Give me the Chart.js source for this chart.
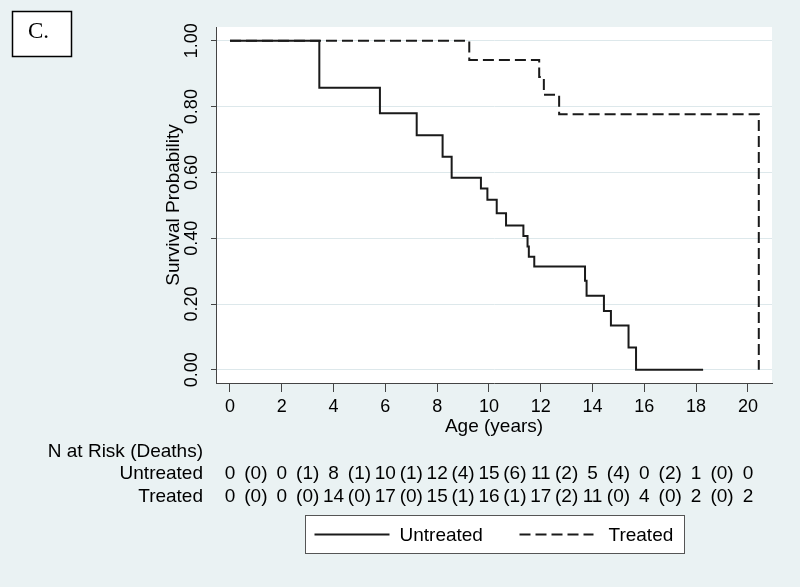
<!DOCTYPE html>
<html lang="en">
<head>
<meta charset="UTF-8">
<title>Survival by treatment</title>
<script src="https://cdn.jsdelivr.net/npm/chart.js"></script>
<style>
  body { margin: 0; background: #eaf2f3; }
  #wrap { width: 800px; height: 587px; }
</style>
</head>
<body>
<div id="wrap"><canvas id="kmChart" width="800" height="587"></canvas></div>
<script>
    // Kaplan-Meier steps (age in years, survival)
    var untreatedTimes = [0, 3.45, 5.79, 7.21, 8.21, 8.56, 9.69, 9.94, 10.30, 10.66, 11.33, 11.49, 11.54, 11.75, 13.71, 13.77, 14.44, 14.71, 15.39, 15.68, 18.27];
    var untreatedSurv = [1, 0.857, 0.780, 0.713, 0.648, 0.584, 0.551, 0.517, 0.476, 0.439, 0.407, 0.375, 0.344, 0.314, 0.271, 0.225, 0.179, 0.135, 0.068, 0, 0];
    var treatedTimes = [0, 9.24, 11.94, 12.12, 12.71, 20.42];
    var treatedSurv = [1, 0.942, 0.890, 0.836, 0.777, 0];

    var xTicks = [0, 2, 4, 6, 8, 10, 12, 14, 16, 18, 20];
    var yTicks = [0, 0.2, 0.4, 0.6, 0.8, 1.0];

    // risk table
    var untreatedAtRisk = [0, 0, 8, 10, 12, 15, 11, 5, 0, 1, 0];
    var untreatedDeaths = [0, 1, 1, 1, 4, 6, 2, 4, 2, 0];
    var treatedAtRisk = [0, 0, 14, 17, 15, 16, 17, 11, 4, 2, 2];
    var treatedDeaths = [0, 0, 0, 0, 1, 1, 2, 0, 0, 0];

    var fontFamily = '"Liberation Sans", Arial, sans-serif';
    var tickFont = { family: fontFamily, size: 18 };
    var titleFont = { family: fontFamily, size: 19 };
    var axisColor = '#444';

    function toPoints(xs, ys) {
        return xs.map(function (x, i) { return { x: x, y: ys[i] }; });
    }

    var backdrop = {
        id: 'backdrop',
        beforeDraw: function (chart) {
            var c = chart.ctx, a = chart.chartArea;
            c.save();
            c.fillStyle = '#eaf2f3';
            c.fillRect(0, 0, chart.width, chart.height);
            c.fillStyle = '#ffffff';
            c.fillRect(a.left, a.top, a.right - a.left, a.bottom - a.top);
            c.restore();
        }
    };

    var extras = {
        id: 'extras',
        afterDraw: function (chart) {
            var c = chart.ctx, xs = chart.scales.x, a = chart.chartArea;
            c.save();
            c.font = '19px ' + fontFamily;
            c.fillStyle = '#000';
            c.textBaseline = 'middle';

            // risk table
            c.textAlign = 'right';
            c.fillText('N at Risk (Deaths)', 203, 452);
            var rows = [
                ['Untreated', untreatedAtRisk, untreatedDeaths, 474],
                ['Treated', treatedAtRisk, treatedDeaths, 497]
            ];
            rows.forEach(function (r) {
                c.textAlign = 'right';
                c.fillText(r[0], 203, r[3]);
                c.textAlign = 'center';
                xTicks.forEach(function (t, i) {
                    c.fillText(String(r[1][i]), xs.getPixelForValue(t), r[3]);
                    if (i < r[2].length) {
                        var mid = (t + xTicks[i + 1]) / 2;
                        c.fillText('(' + r[2][i] + ')', xs.getPixelForValue(mid), r[3]);
                    }
                });
            });

            // legend box
            var w = 379, h = 38;
            var lx = Math.round((a.left + a.right) / 2 - w / 2) + 0.5, ly = 515.5;
            c.fillStyle = '#fff';
            c.fillRect(lx, ly, w, h);
            c.strokeStyle = '#555';
            c.lineWidth = 1;
            c.strokeRect(lx, ly, w, h);
            var ds = chart.data.datasets;
            var items = [[ds[0], 9, 84, 94], [ds[1], 214, 288, 303]];
            items.forEach(function (it) {
                c.beginPath();
                c.strokeStyle = it[0].borderColor;
                c.lineWidth = it[0].borderWidth;
                c.setLineDash(it[0].borderDash || []);
                c.moveTo(lx + it[1], ly + h / 2);
                c.lineTo(lx + it[2], ly + h / 2);
                c.stroke();
                c.setLineDash([]);
                c.fillStyle = '#000';
                c.textAlign = 'left';
                c.fillText(it[0].label, lx + it[3], ly + h / 2 + 1);
            });

            // panel tag
            c.fillStyle = '#fff';
            c.fillRect(12.5, 11.5, 59, 45);
            c.strokeStyle = '#000';
            c.lineWidth = 1.5;
            c.strokeRect(12.5, 11.5, 59, 45);
            c.fillStyle = '#000';
            c.font = '23px "Liberation Serif", "Times New Roman", serif';
            c.textAlign = 'left';
            c.fillText('C.', 28, 32);
            c.restore();
        }
    };

    var ctx = document.getElementById('kmChart').getContext('2d');
    var kmChart = new Chart(ctx, {
        type: 'line',
        data: {
            datasets: [{
                label: 'Untreated',
                data: toPoints(untreatedTimes, untreatedSurv),
                borderColor: '#1a1a1a',
                borderWidth: 2,
                stepped: true,
                pointRadius: 0,
                fill: false
            }, {
                label: 'Treated',
                data: toPoints(treatedTimes, treatedSurv),
                borderColor: '#1a1a1a',
                borderWidth: 2,
                borderDash: [11, 5],
                stepped: true,
                pointRadius: 0,
                fill: false
            }]
        },
        options: {
            responsive: false,
            animation: false,
            layout: { padding: { top: 27, right: 28, left: 0, bottom: 144 } },
            plugins: {
                legend: { display: false },
                tooltip: { enabled: false }
            },
            scales: {
                x: {
                    type: 'linear',
                    min: -0.54,
                    max: 20.93,
                    afterBuildTicks: function (s) {
                        s.ticks = xTicks.map(function (v) { return { value: v }; });
                    },
                    afterFit: function (s) { s.height = 60; },
                    grid: { drawOnChartArea: false, drawTicks: true, tickLength: 9, tickColor: axisColor },
                    border: { color: axisColor, width: 1 },
                    ticks: { color: '#000', font: tickFont, padding: 4, maxRotation: 0 },
                    title: { display: true, text: 'Age (years)', color: '#000', font: titleFont, padding: { top: 0, bottom: 5 } }
                },
                y: {
                    type: 'linear',
                    min: -0.04,
                    max: 1.042,
                    afterBuildTicks: function (s) {
                        s.ticks = yTicks.map(function (v) { return { value: v }; });
                    },
                    afterFit: function (s) { s.width = 216; },
                    grid: { color: '#dde8eb', lineWidth: 1, drawTicks: true, tickLength: 5, tickColor: axisColor },
                    border: { color: axisColor, width: 1 },
                    ticks: {
                        color: '#000', font: tickFont, padding: 1,
                        minRotation: 90, maxRotation: 90, crossAlign: 'center',
                        callback: function (v) { return Number(v).toFixed(2); }
                    },
                    title: { display: true, text: 'Survival Probability', color: '#000', font: titleFont, padding: { top: 162, bottom: 0 } }
                }
            }
        },
        plugins: [backdrop, extras]
    });
</script>
</body>
</html>
